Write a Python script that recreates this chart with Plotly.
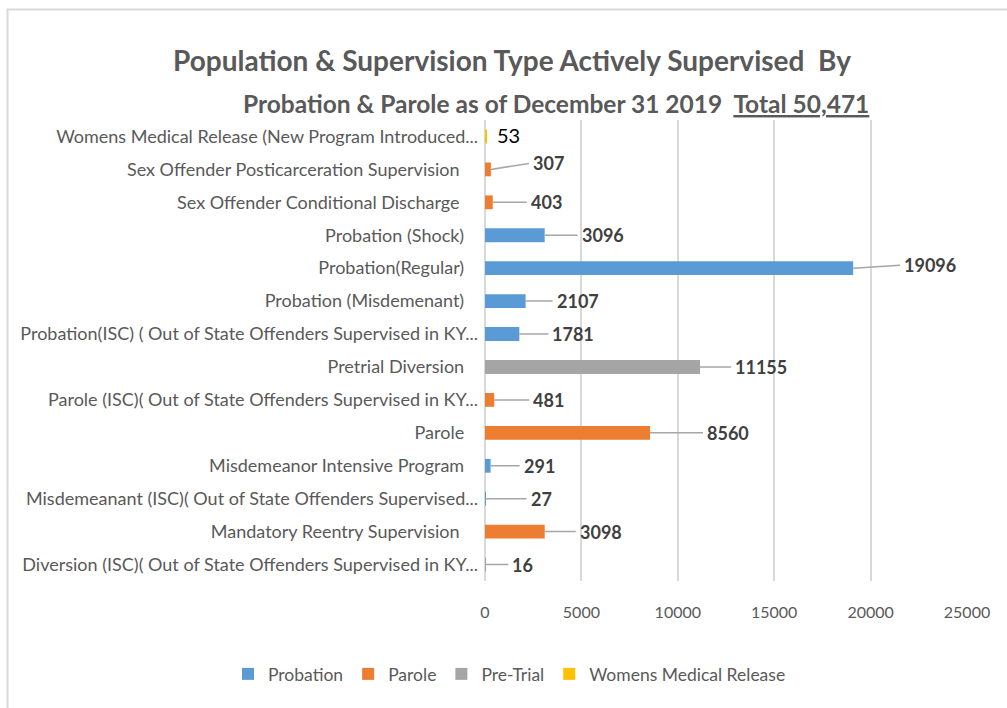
import plotly.graph_objects as go

# ---------------- data ----------------
categories = [
    "Womens Medical Release (New Program Introduced...",
    "Sex Offender Posticarceration Supervision",
    "Sex Offender Conditional Discharge",
    "Probation (Shock)",
    "Probation(Regular)",
    "Probation (Misdemenant)",
    "Probation(ISC) ( Out of State Offenders Supervised in KY...",
    "Pretrial Diversion",
    "Parole (ISC)( Out of State Offenders Supervised in KY...",
    "Parole",
    "Misdemeanor Intensive Program",
    "Misdemeanant (ISC)( Out of State Offenders Supervised...",
    "Mandatory Reentry Supervision",
    "Diversion (ISC)( Out of State Offenders Supervised in KY...",
]
values = [53, 307, 403, 3096, 19096, 2107, 1781, 11155, 481, 8560, 291, 27, 3098, 16]
series_of = ["Womens Medical Release", "Parole", "Parole", "Probation", "Probation",
             "Probation", "Probation", "Pre-Trial", "Parole", "Parole", "Probation",
             "Probation", "Parole", "Pre-Trial"]
series_names = ["Probation", "Parole", "Pre-Trial", "Womens Medical Release"]
x_ticks = [0, 5000, 10000, 15000, 20000, 25000]
title_line1 = "Population & Supervision Type Actively Supervised  By"
title_line2 = "Probation & Parole as of December 31 2019  <u>Total 50,471</u>"

# ---------------- styles ----------------
colors = {"Probation": "#5B9BD5", "Parole": "#ED7D31",
          "Pre-Trial": "#A5A5A5", "Womens Medical Release": "#FFC000"}
FONT = "Lato"
TXT = "#595959"
W, H = 1007, 708
PL, PR, PT, PB = 485, 967, 120, 581  # plot area in pixels
# trailing padding (in spaces) of each category label, as laid out in the original
label_pad = [0, 4, 4, 3, 3, 3, 0, 3, 0, 3, 3, 0, 4, 0]
# label leader offsets (pixels): (dx, dy); None = plain label
label_offsets = [None, (38, -6), (34, 0), (33, 0), (47, -3), (27, 0), (29, 0), (31, 0),
                 (35, 0), (53, 0), (29, 0), (41, 0), (31, 0), (23, 0)]

fig = go.Figure()
for s in series_names:
    xs = [v if t == s else None for v, t in zip(values, series_of)]
    fig.add_trace(go.Bar(
        y=categories, x=xs, orientation="h", name=s,
        marker=dict(color=colors[s], line=dict(width=0)),
        width=0.42, hoverinfo="x+y",
    ))

annotations = []
for cat, v, off in zip(categories, values, label_offsets):
    if off is None:
        annotations.append(dict(
            x=v, y=cat, xref="x", yref="y", text=str(v), showarrow=False,
            xanchor="left", yanchor="middle", xshift=9, yshift=1,
            font=dict(family=FONT, size=20, color="#000000")))
    else:
        dx, dy = off
        annotations.append(dict(
            x=v, y=cat, xref="x", yref="y", text="<b>%d</b>" % v,
            showarrow=True, arrowhead=0, arrowwidth=1.5, arrowcolor="#A6A6A6",
            ax=dx, ay=dy, axref="pixel", ayref="pixel", standoff=0,
            xanchor="left", yanchor="middle", borderpad=3,
            font=dict(family=FONT, size=18, color="#404040")))


def px_x(p):
    return (p - PL) / (PR - PL)


def px_y(p):
    return (PB - p) / (PB - PT)


annotations.append(dict(x=px_x(512), y=px_y(60), xref="paper", yref="paper",
                        text="<b>%s</b>" % title_line1, showarrow=False,
                        xanchor="center", yanchor="middle",
                        font=dict(family=FONT, size=28, color=TXT)))
annotations.append(dict(x=px_x(556), y=px_y(104), xref="paper", yref="paper",
                        text="<b>%s</b>" % title_line2, showarrow=False,
                        xanchor="center", yanchor="middle",
                        font=dict(family=FONT, size=24.5, color=TXT)))

shapes = [dict(type="rect", xref="paper", yref="paper",
               x0=px_x(7.5), x1=px_x(1200), y0=px_y(900), y1=px_y(9.5),
               line=dict(color="#D9D9D9", width=2), layer="below")]

ytick_text = [c + "\u00a0" * p for c, p in zip(categories, label_pad)]

fig.update_layout(
    width=W, height=H,
    margin=dict(l=PL, r=W - PR, t=PT, b=H - PB, pad=0, autoexpand=False),
    paper_bgcolor="white", plot_bgcolor="white",
    barmode="overlay", bargap=0.5,
    font=dict(family=FONT, color=TXT, size=18),
    showlegend=True,
    legend=dict(orientation="h", x=px_x(228), xanchor="left",
                y=px_y(674), yanchor="middle", traceorder="normal",
                font=dict(family=FONT, size=17.5, color=TXT),
                itemwidth=30, bgcolor="rgba(0,0,0,0)"),
    annotations=annotations, shapes=shapes,
    xaxis=dict(range=[0, 25000], tickvals=x_ticks, ticktext=[str(t) for t in x_ticks],
               showgrid=True, gridcolor="#D9D9D9", gridwidth=1.5,
               zeroline=True, zerolinecolor="#D9D9D9", zerolinewidth=1.5,
               showline=False, ticks="", ticklabelstandoff=20, automargin=False,
               tickfont=dict(family=FONT, size=16, color=TXT), fixedrange=True),
    yaxis=dict(categoryorder="array", categoryarray=categories, autorange="reversed",
               tickvals=categories, ticktext=ytick_text,
               showgrid=False, zeroline=False, showline=False, ticks="",
               ticklabelstandoff=6, automargin=False,
               tickfont=dict(family=FONT, size=18, color=TXT), fixedrange=True),
)

fig.write_html("out.html", config={"displayModeBar": False},
               post_script="document.body.style.margin='0px';")
